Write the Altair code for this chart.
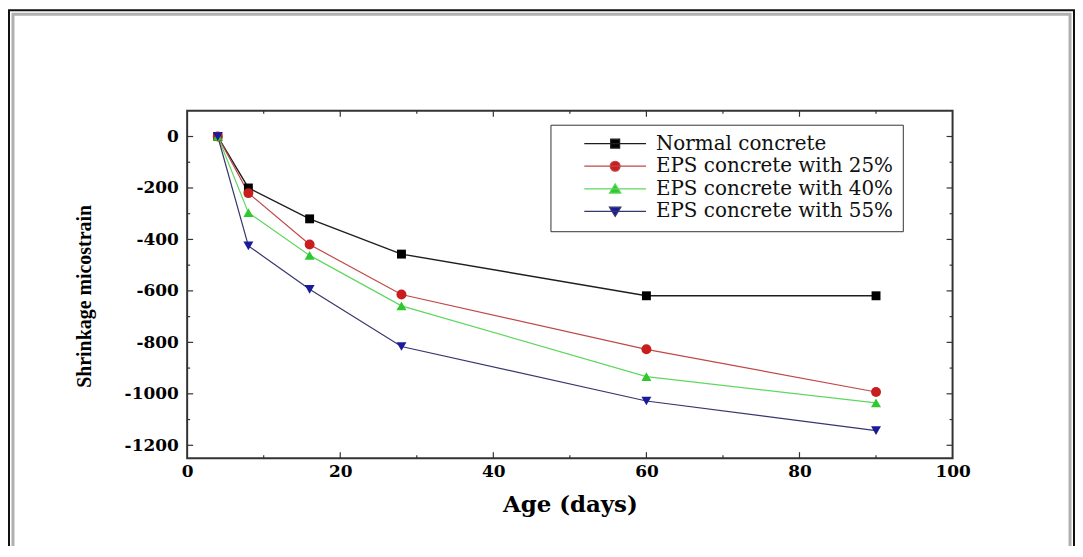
import altair as alt
import pandas as pd

# ---------------- data ----------------
days = [4, 8, 16, 28, 60, 90]
series_names = [
    "Normal concrete",
    "EPS concrete with 25%",
    "EPS concrete with 40%",
    "EPS concrete with 55%",
]
normal = [0, -200, -320, -457, -619, -619]
eps25 = [0, -220, -420, -614, -827, -993]
eps40 = [0, -296, -462, -658, -933, -1035]
eps55 = [0, -425, -594, -816, -1028, -1143]

x_ticks = [0, 20, 40, 60, 80, 100]
x_minor = [10, 30, 50, 70, 90]
y_ticks = [0, -200, -400, -600, -800, -1000, -1200]
y_minor = [-100, -300, -500, -700, -900, -1100]

line_colors = ["#1e1e1e", "#c04848", "#5fd85f", "#36366e"]
marker_colors = ["#000000", "#c81e1e", "#2fc82f", "#1a1a9c"]
marker_shapes = ["square", "circle", "triangle-up", "triangle-down"]
marker_sizes = [80, 100, 100, 100]
line_widths = [1.4, 1.2, 1.2, 1.2]
legend_paths = [
    "M-6.2,0H6.2M-0.9,-0.9H0.9V0.9H-0.9Z",
    "M-6.2,0H6.2M-1,0A1,1,0,1,0,1,0A1,1,0,1,0,-1,0Z",
    "M-6.2,0H6.2M0,-1L1.15,0.85H-1.15Z",
    "M-6.2,0H6.2M0,1L1.15,-0.85H-1.15Z",
]

rows = []
for name, vals in zip(series_names, [normal, eps25, eps40, eps55]):
    for d, v in zip(days, vals):
        rows.append({"series": name, "day": d, "value": v})
df = pd.DataFrame(rows)

xt = pd.DataFrame({"day": x_ticks[1:-1]})
xm = pd.DataFrame({"day": x_minor})
yt = pd.DataFrame({"value": y_ticks})
ym = pd.DataFrame({"value": y_minor})
one = pd.DataFrame({"a": [0]})

SERIF = "DejaVu Serif"
x_scale = alt.Scale(domain=[0, 100], nice=False)
y_scale = alt.Scale(domain=[-1250, 100], nice=False, zero=False)

x_axis = alt.Axis(
    values=x_ticks, title="Age (days)", grid=False, domain=False, format="d",
    ticks=False, tickSize=0, labelPadding=5, labelFont=SERIF,
    labelFontWeight="bold", labelFontSize=17, labelColor="#000",
    titleFont=SERIF, titleFontWeight="bold", titleFontSize=23,
    titleColor="#000", titlePadding=15, labelFlush=False,
)
y_axis = alt.Axis(
    values=y_ticks, title="Shrinkage micostrain", grid=False, domain=False, format="d",
    ticks=False, tickSize=0, labelPadding=9, labelFont=SERIF,
    labelFontWeight="bold", labelFontSize=17, labelColor="#000",
    labelExpr="replace(datum.label, '\u2212', '-')",
    titleFont="Liberation Serif", titleFontWeight="bold", titleFontSize=20,
    titleColor="#000", titleX=-103, titleY=186, titleAlign="center",
    titleBaseline="middle", titleAngle=270,
)


def X():
    return alt.X("day:Q", scale=x_scale, axis=x_axis)


def Y():
    return alt.Y("value:Q", scale=y_scale, axis=y_axis)


# ------------- outer figure frame (decoration) -------------
frame_outer = alt.Chart(one).mark_rect(fillOpacity=0, stroke="#111", strokeWidth=2).encode(
    x=alt.value(-179), x2=alt.value(891), y=alt.value(-101), y2=alt.value(500)
)
frame_inner = alt.Chart(one).mark_rect(fillOpacity=0, stroke="#b0b0b0", strokeWidth=3).encode(
    x=alt.value(-175), x2=alt.value(887), y=alt.value(-97), y2=alt.value(500)
)

# ------------- inward ticks -------------
tick_style = dict(color="#333", strokeWidth=1.2)
ty_left = alt.Chart(yt).mark_rule(**tick_style).encode(y=Y(), x=alt.value(0), x2=alt.value(6))
ty_right = alt.Chart(yt).mark_rule(**tick_style).encode(
    y=Y(), x=alt.value("width"), x2=alt.value({"expr": "width - 6"}))
tym_left = alt.Chart(ym).mark_rule(**tick_style).encode(y=Y(), x=alt.value(0), x2=alt.value(3))
tym_right = alt.Chart(ym).mark_rule(**tick_style).encode(
    y=Y(), x=alt.value("width"), x2=alt.value({"expr": "width - 3"}))
tx_bot = alt.Chart(xt).mark_rule(**tick_style).encode(
    x=X(), y=alt.value("height"), y2=alt.value({"expr": "height - 6"}))
tx_top = alt.Chart(xt).mark_rule(**tick_style).encode(x=X(), y=alt.value(0), y2=alt.value(6))
txm_bot = alt.Chart(xm).mark_rule(**tick_style).encode(
    x=X(), y=alt.value("height"), y2=alt.value({"expr": "height - 3"}))
txm_top = alt.Chart(xm).mark_rule(**tick_style).encode(x=X(), y=alt.value(0), y2=alt.value(3))

# ------------- data layers -------------
line_layers = []
point_layers = []
for i, name in enumerate(series_names):
    sub = alt.Chart(df).transform_filter(alt.datum.series == name)
    line_layers.append(
        sub.mark_line(color=line_colors[i], strokeWidth=line_widths[i]).encode(
            x=X(), y=Y(), order="day:Q")
    )
    point_layers.append(
        sub.mark_point(filled=True, opacity=1, shape=marker_shapes[i],
                       size=marker_sizes[i], color=marker_colors[i]).encode(x=X(), y=Y())
    )

leg_props = dict(
    orient="none", legendX=365, legendY=14, title=None,
    labelFont=SERIF, labelFontSize=20, labelColor="#111", labelLimit=500,
    labelExpr="datum.label + '\u00a0\u00a0\u00a0\u00a0\u00a0\u00a0'",
    symbolSize=100, symbolStrokeWidth=1.2, symbolOffset=46, labelOffset=31,
    padding=9, rowPadding=2.7, strokeColor="#333", fillColor="white",
)
legend_layer = alt.Chart(df).transform_filter("false").mark_point(filled=True, opacity=1).encode(
    x=X(),
    y=Y(),
    color=alt.Color("series:N", scale=alt.Scale(domain=series_names, range=marker_colors),
                    legend=alt.Legend(**leg_props)),
    stroke=alt.Stroke("series:N", scale=alt.Scale(domain=series_names, range=line_colors),
                      legend=alt.Legend(**leg_props)),
    shape=alt.Shape("series:N", scale=alt.Scale(domain=series_names, range=legend_paths),
                    legend=alt.Legend(**leg_props)),
)

chart = (
    alt.layer(
        frame_outer, frame_inner,
        ty_left, ty_right, tym_left, tym_right, tx_bot, tx_top, txm_bot, txm_top,
        *line_layers, *point_layers, legend_layer,
    )
    .properties(
        width=769, height=349,
        padding={"left": 180, "top": 102, "right": 123, "bottom": 87},
        autosize=alt.AutoSizeParams(type="none"),
        background="white",
    )
    .configure_view(stroke="#333", strokeWidth=2)
)

chart.save("out.html", embed_options={"renderer": "svg", "actions": False})
